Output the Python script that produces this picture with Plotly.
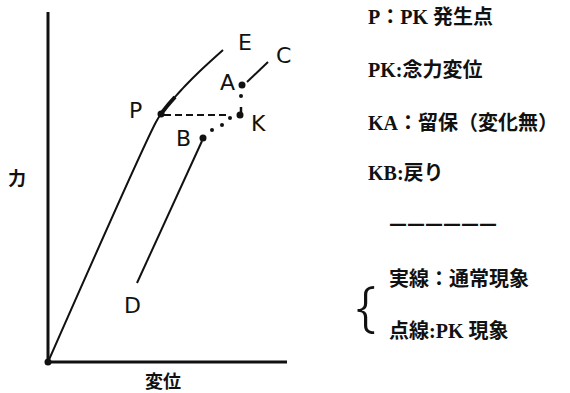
import plotly.graph_objects as go

# --- データ（変位, 力） 手書き図から読み取った概略値 ---
# 通常の曲線 O -> P -> E
disp_op = [0, 108, 113]
force_op = [0, 240, 248]
disp_pe = [113, 120, 127, 137, 152, 175]
force_pe = [248, 257, 265, 276, 291, 312]
# P 付近の太い部分
disp_thick = [113, 120, 127]
force_thick = [248, 257, 265]
# PK（念力変位）: 破線
disp_pk = [116, 181]
force_pk = [247, 247]
# KA（留保）: 点線
disp_ka = [193, 193]
force_ka = [247, 255]
disp_ka_dots = [193]
force_ka_dots = [266]
# KB（戻り）: 点線
disp_kb = [164, 174, 182]
force_kb = [232, 237, 244]
# A -> C, B -> D の実線
disp_ac = [199, 220]
force_ac = [280, 300]
disp_bd = [154, 89]
force_bd = [221, 79]
# 黒丸
pt_names = ["O", "P", "K", "A", "B"]
pt_disp = [0, 113, 192, 194, 155]
pt_force = [0, 248, 247, 277, 224]
# 点ラベル
lab_names = ["P", "E", "C", "A", "K", "B", "D"]
lab_disp = [87, 197, 235, 179, 210, 135, 84]
lab_force = [252, 320, 307, 280, 239, 224, 57]
# 軸
axis_x_end = 239
axis_y_end = 350

# 右側の説明
notes = ["P：PK 発生点", "PK:念力変位", "KA：留保（変化無）", "KB:戻り"]
notes_y = [345, 292, 239, 189]
legend_notes = ["実線：通常現象", "点線:PK 現象"]
legend_y = [84, 32]

BLACK = "#111"
fig = go.Figure()


def line(x, y, width=2, dash="solid"):
    fig.add_trace(go.Scatter(
        x=x, y=y, mode="lines",
        line=dict(color=BLACK, width=width, dash=dash, shape="spline", smoothing=1.0),
        showlegend=False, hoverinfo="none",
    ))


# 軸
line([0, 0], [0, axis_y_end], width=3)
line([0, axis_x_end], [0, 0], width=3)

line(disp_op, force_op)
line(disp_pe, force_pe)
line(disp_thick, force_thick, width=4)
line(disp_pk, force_pk, width=2, dash="7px,4px")
line(disp_ka, force_ka, width=2.5)
line(disp_ac, force_ac)
line(disp_bd, force_bd)

# 点線（点）
fig.add_trace(go.Scatter(
    x=disp_ka_dots + disp_kb, y=force_ka_dots + force_kb, mode="markers",
    marker=dict(color=BLACK, size=4),
    showlegend=False, hoverinfo="none",
))
fig.add_trace(go.Scatter(
    x=pt_disp, y=pt_force, mode="markers",
    marker=dict(color=BLACK, size=7),
    showlegend=False, hoverinfo="none",
))

annotations = []
for name, x, y in zip(lab_names, lab_disp, lab_force):
    annotations.append(dict(
        x=x, y=y, text=name, showarrow=False,
        font=dict(size=22, color=BLACK, family="DejaVu Sans"),
        xanchor="center", yanchor="middle",
    ))

annotations.append(dict(
    x=-31, y=185, text="<b>力</b>", showarrow=False,
    font=dict(size=18, color=BLACK, family="Noto Sans CJK JP"),
))
annotations.append(dict(
    x=115, y=-18, text="<b>変位</b>", showarrow=False,
    font=dict(size=18, color=BLACK, family="Noto Sans CJK JP"),
))

note_font = dict(size=20, color=BLACK, family="Liberation Serif, Noto Sans CJK JP")
for t, y in zip(notes, notes_y):
    annotations.append(dict(
        x=318, y=y, text=f"<b>{t}</b>", showarrow=False,
        font=note_font, xanchor="left", yanchor="middle",
    ))
annotations.append(dict(
    x=339, y=139, text="<b>——————</b>", showarrow=False,
    font=dict(size=18, color=BLACK, family="DejaVu Sans"),
    xanchor="left", yanchor="middle",
))
for t, y in zip(legend_notes, legend_y):
    annotations.append(dict(
        x=339, y=y, text=f"<b>{t}</b>", showarrow=False,
        font=note_font, xanchor="left", yanchor="middle",
    ))
annotations.append(dict(
    x=318, y=58, text="{", showarrow=False,
    font=dict(size=56, color=BLACK, family="Noto Sans", weight=300),
    xanchor="center", yanchor="middle",
))

fig.update_layout(
    width=570, height=393,
    margin=dict(l=0, r=0, t=0, b=0),
    paper_bgcolor="white", plot_bgcolor="white",
    xaxis=dict(visible=False, range=[-48, 522], fixedrange=True),
    yaxis=dict(visible=False, range=[-31, 362], fixedrange=True),
    annotations=annotations,
)

fig.write_html(
    "out.html",
    config={"displayModeBar": False},
    post_script="document.body.style.margin='0';document.body.style.overflow='hidden';",
)
